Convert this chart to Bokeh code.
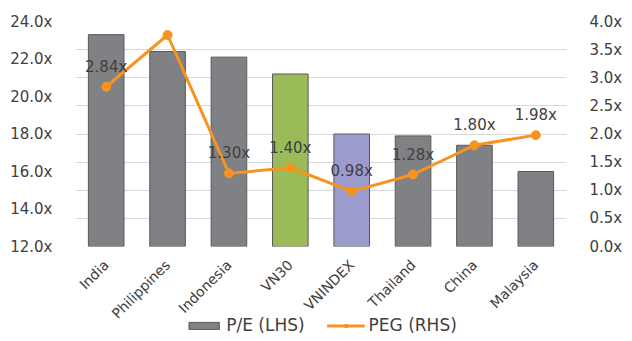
from bokeh.plotting import figure
from bokeh.layouts import column
from bokeh.models import (Range1d, LinearAxis, FixedTicker, ColumnDataSource, LabelSet,
                          Legend, LegendItem, Grid, PrintfTickFormatter, FactorRange)
from bokeh.core.properties import value
from bokeh.embed import file_html
from bokeh.resources import INLINE
import math

# ---- data ----
categories = ["India", "Philippines", "Indonesia", "VN30", "VNINDEX", "Thailand", "China", "Malaysia"]
pe_values = [23.3, 22.4, 22.1, 21.2, 18.0, 17.9, 17.4, 16.0]
peg_values = [2.84, 3.76, 1.30, 1.40, 0.98, 1.28, 1.80, 1.98]
pe_ticks = [12, 14, 16, 18, 20, 22, 24]
peg_ticks = [0, 0.5, 1.0, 1.5, 2.0, 2.5, 3.0, 3.5, 4.0]
series_names = ["P/E (LHS)", "PEG (RHS)"]

# ---- styles ----
FONT = "DejaVu Sans"
TXT = "#404040"
GRAY = "#808184"
special = {"VN30": "#9BBB59", "VNINDEX": "#9B9BCE"}
bar_colors = [special.get(c, GRAY) for c in categories]
ORANGE = "#F7931E"
OUTLINE = "#595959"

src = ColumnDataSource(dict(cat=categories, pe=pe_values, peg=peg_values,
                            color=bar_colors,
                            lbl=["%.2fx" % v for v in peg_values]))

p = figure(width=632, height=330, x_range=FactorRange(*categories),
           y_range=Range1d(pe_ticks[0], pe_ticks[-1]),
           output_backend="svg", toolbar_location=None,
           min_border_left=75, min_border_right=66, min_border_top=21, min_border_bottom=84)
p.extra_y_ranges = {"peg": Range1d(peg_ticks[0], peg_ticks[-1])}
p.outline_line_color = None
p.xgrid.visible = False
p.ygrid.visible = False
p.border_fill_alpha = 0

g = Grid(dimension=1, ticker=FixedTicker(ticks=peg_ticks), y_range_name="peg",
         grid_line_color="#D9D9D9", grid_line_width=1)
p.add_layout(g)

bars = p.vbar(x="cat", top="pe", bottom=pe_ticks[0], width=0.58, source=src,
              fill_color="color", line_color=OUTLINE, line_width=1)

line = p.line(x="cat", y="peg", source=src, y_range_name="peg",
              line_color=ORANGE, line_width=3)
dots = p.scatter(x="cat", y="peg", source=src, y_range_name="peg", size=9,
                 fill_color=ORANGE, line_color=ORANGE)

labels = LabelSet(x="cat", y="peg", text="lbl", source=src, y_range_name="peg",
                  y_offset=20, text_align="center", text_baseline="middle",
                  text_font=value(FONT), text_font_size=value("15px"), text_color=TXT)
p.add_layout(labels)

# axes
yax = p.yaxis[0]
yax.ticker = FixedTicker(ticks=pe_ticks)
yax.formatter = PrintfTickFormatter(format="%.1fx")
yax.major_label_standoff = 17

rax = LinearAxis(y_range_name="peg", ticker=FixedTicker(ticks=peg_ticks),
                 formatter=PrintfTickFormatter(format="%.1fx"))
rax.major_label_standoff = 17
p.add_layout(rax, "right")

xax = p.xaxis[0]
xax.major_label_orientation = math.pi / 4
xax.major_label_standoff = 10

for ax in [yax, rax, xax]:
    ax.axis_line_color = None
    ax.major_tick_line_color = None
    ax.minor_tick_line_color = None
    ax.major_label_text_font = FONT
    ax.major_label_text_font_size = "15px"
    ax.major_label_text_color = TXT
xax.major_label_text_font_size = "14px"

# ---- legend strip (separate small figure; proxy glyphs hold no drawable points) ----
lf = figure(width=632, height=20, output_backend="svg", toolbar_location=None,
            x_axis_type=None, y_axis_type=None, x_range=Range1d(0, 1), y_range=Range1d(0, 1),
            min_border_left=10, min_border_right=0, min_border_top=0, min_border_bottom=0)
lf.outline_line_color = None
lf.xgrid.visible = False
lf.ygrid.visible = False
lf.background_fill_alpha = 0
lf.border_fill_alpha = 0
lf.margin = (-15, 0, 0, 0)
nan = float("nan")
proxy = ColumnDataSource(dict(x=[nan], y=[nan], top=[nan]))
lb = lf.vbar(x="x", top="top", bottom=0, width=0.1, source=proxy, fill_color=GRAY, line_color=OUTLINE)
ll = lf.line(x="x", y="y", source=proxy, line_color=ORANGE, line_width=3)
ld = lf.scatter(x="x", y="y", source=proxy, size=9, fill_color=ORANGE, line_color=ORANGE)
legend = Legend(items=[LegendItem(label=series_names[0], renderers=[lb]),
                       LegendItem(label=series_names[1], renderers=[ll, ld])],
                orientation="horizontal", location="center",
                border_line_color=None, background_fill_alpha=0,
                padding=0, margin=0, spacing=22, label_standoff=4,
                glyph_width=38, glyph_height=9,
                label_text_font=FONT, label_text_font_size="17px",
                label_text_color=TXT)
lf.add_layout(legend, "center")

layout = column(p, lf, spacing=0)
open("out.html", "w").write(file_html(layout, INLINE))
